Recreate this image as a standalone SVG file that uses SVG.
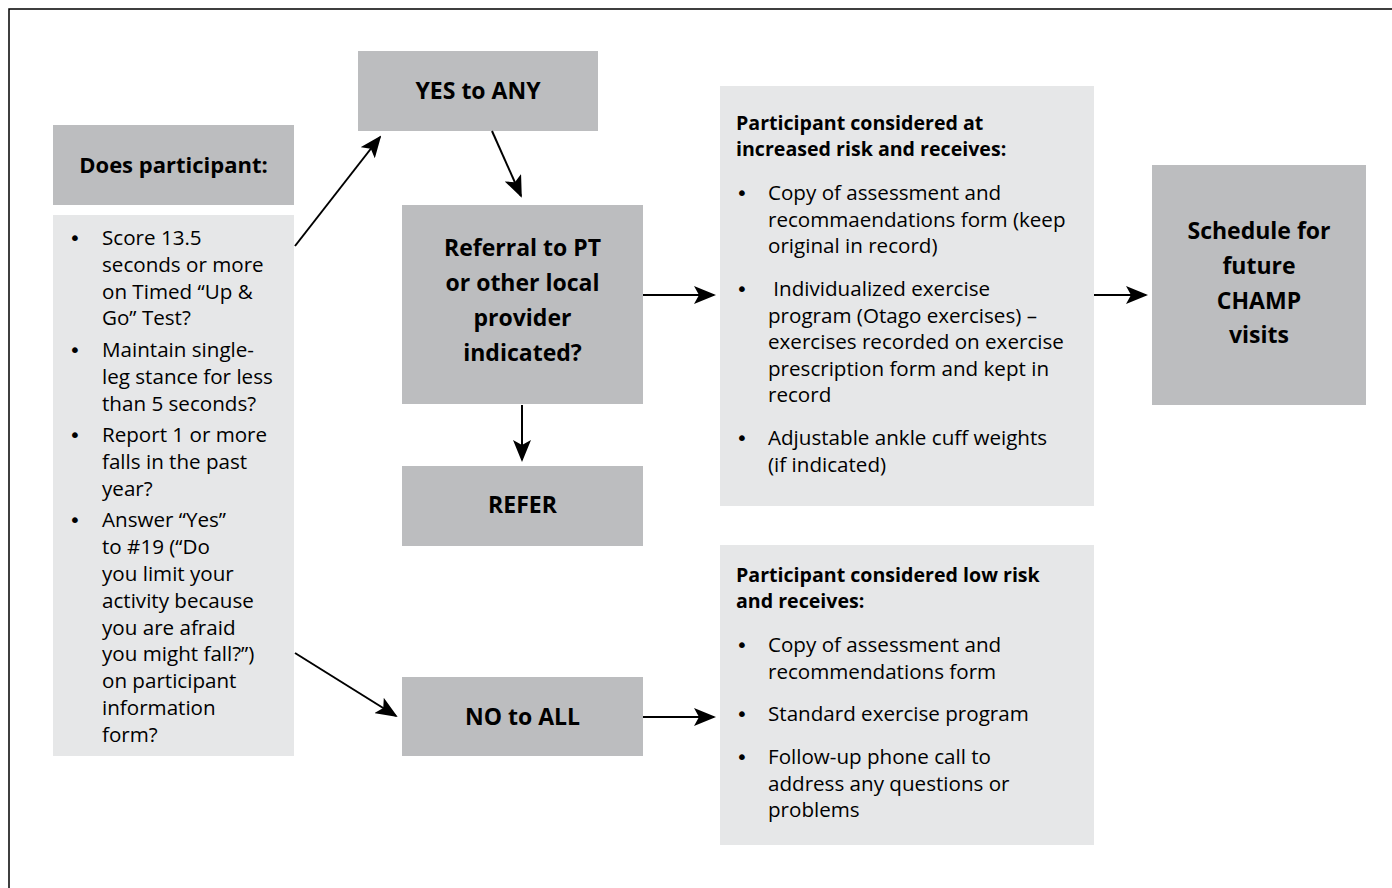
<svg xmlns="http://www.w3.org/2000/svg" width="1392" height="888" viewBox="0 0 1392 888">
<defs>
<style>
.dark{fill:#bcbdbf}
.light{fill:#e6e7e8}
text{font-family:"Open Sans","Noto Sans",sans-serif;fill:#000}
.t{font-size:20.6px}
.bl{font-family:"DejaVu Sans",sans-serif;font-size:20px}
.h{font-size:19.6px;font-weight:bold}
.big{font-size:23px;font-weight:bold;text-anchor:middle}
.c{stroke:#000;stroke-width:2;fill:none;marker-end:url(#ah)}
</style>
<marker id="ah" markerWidth="11" markerHeight="9" refX="10" refY="4.5" orient="auto" markerUnits="strokeWidth">
<path d="M0,0 L11,4.5 L0,9 L2.5,4.5 Z" fill="#000"/>
</marker>
</defs>
<rect width="1392" height="888" fill="#fff"/>
<path d="M9,888 V9 H1392" stroke="#000" stroke-width="1.5" fill="none"/>

<g id="does">
<rect class="dark" x="53" y="125" width="241" height="80"/>
<text class="big" x="173.5" y="173" style="font-size:22px">Does participant:</text>
</g>

<g id="criteria">
<rect class="light" x="53" y="215" width="241" height="541"/>
<g class="t">
<text class="bl" x="69" y="245">•</text>
<text x="102" y="245">Score 13.5</text>
<text x="102" y="271.8">seconds or more</text>
<text x="102" y="298.6">on Timed “Up &amp;</text>
<text x="102" y="325.4">Go” Test?</text>
<text class="bl" x="69" y="357">•</text>
<text x="102" y="357">Maintain single-</text>
<text x="102" y="383.8">leg stance for less</text>
<text x="102" y="410.6">than 5 seconds?</text>
<text class="bl" x="69" y="442.2">•</text>
<text x="102" y="442.2">Report 1 or more</text>
<text x="102" y="469">falls in the past</text>
<text x="102" y="495.8">year?</text>
<text class="bl" x="69" y="527.4">•</text>
<text x="102" y="527.4">Answer “Yes”</text>
<text x="102" y="554.2">to #19 (“Do</text>
<text x="102" y="581">you limit your</text>
<text x="102" y="607.8">activity because</text>
<text x="102" y="634.6">you are afraid</text>
<text x="102" y="661.4">you might fall?”)</text>
<text x="102" y="688.2">on participant</text>
<text x="102" y="715">information</text>
<text x="102" y="741.8">form?</text>
</g>
</g>

<g id="yes">
<rect class="dark" x="358" y="51" width="240" height="80"/>
<text class="big" x="478" y="99">YES to ANY</text>
</g>

<g id="referral">
<rect class="dark" x="402" y="205" width="241" height="199"/>
<text class="big" x="522.5" y="256">Referral to PT</text>
<text class="big" x="522.5" y="291">or other local</text>
<text class="big" x="522.5" y="326">provider</text>
<text class="big" x="522.5" y="361">indicated?</text>
</g>

<g id="refer">
<rect class="dark" x="402" y="466" width="241" height="80"/>
<text class="big" x="522.5" y="513">REFER</text>
</g>

<g id="no">
<rect class="dark" x="402" y="677" width="241" height="79"/>
<text class="big" x="522.5" y="725">NO to ALL</text>
</g>

<g id="increased">
<rect class="light" x="720" y="86" width="374" height="420"/>
<text class="h" x="736" y="130">Participant considered at</text>
<text class="h" x="736" y="156">increased risk and receives:</text>
<g class="t">
<text class="bl" x="736" y="200">•</text>
<text x="768" y="200">Copy of assessment and</text>
<text x="768" y="226.5">recommaendations form (keep</text>
<text x="768" y="253">original in record)</text>
<text class="bl" x="736" y="296">•</text>
<text x="768" y="296" xml:space="preserve" style="white-space:pre"> Individualized exercise</text>
<text x="768" y="322.5">program (Otago exercises) –</text>
<text x="768" y="349">exercises recorded on exercise</text>
<text x="768" y="375.5">prescription form and kept in</text>
<text x="768" y="402">record</text>
<text class="bl" x="736" y="445">•</text>
<text x="768" y="445">Adjustable ankle cuff weights</text>
<text x="768" y="471.5">(if indicated)</text>
</g>
</g>

<g id="low">
<rect class="light" x="720" y="545" width="374" height="300"/>
<text class="h" x="736" y="582">Participant considered low risk</text>
<text class="h" x="736" y="608">and receives:</text>
<g class="t">
<text class="bl" x="736" y="652">•</text>
<text x="768" y="652">Copy of assessment and</text>
<text x="768" y="678.5">recommendations form</text>
<text class="bl" x="736" y="721">•</text>
<text x="768" y="721">Standard exercise program</text>
<text class="bl" x="736" y="764">•</text>
<text x="768" y="764">Follow-up phone call to</text>
<text x="768" y="790.5">address any questions or</text>
<text x="768" y="817">problems</text>
</g>
</g>

<g id="schedule">
<rect class="dark" x="1152" y="165" width="214" height="240"/>
<text class="big" x="1259" y="239">Schedule for</text>
<text class="big" x="1259" y="274">future</text>
<text class="big" x="1259" y="309">CHAMP</text>
<text class="big" x="1259" y="343">visits</text>
</g>

<g id="connectors">
<line class="c" x1="295" y1="246" x2="380" y2="137"/>
<line class="c" x1="492" y1="131" x2="521" y2="196"/>
<line class="c" x1="522" y1="405" x2="522" y2="460"/>
<line class="c" x1="295" y1="653" x2="396" y2="716"/>
<line class="c" x1="643" y1="295" x2="714" y2="295"/>
<line class="c" x1="643" y1="717" x2="714" y2="717"/>
<line class="c" x1="1094" y1="295" x2="1146" y2="295"/>
</g>
</svg>
